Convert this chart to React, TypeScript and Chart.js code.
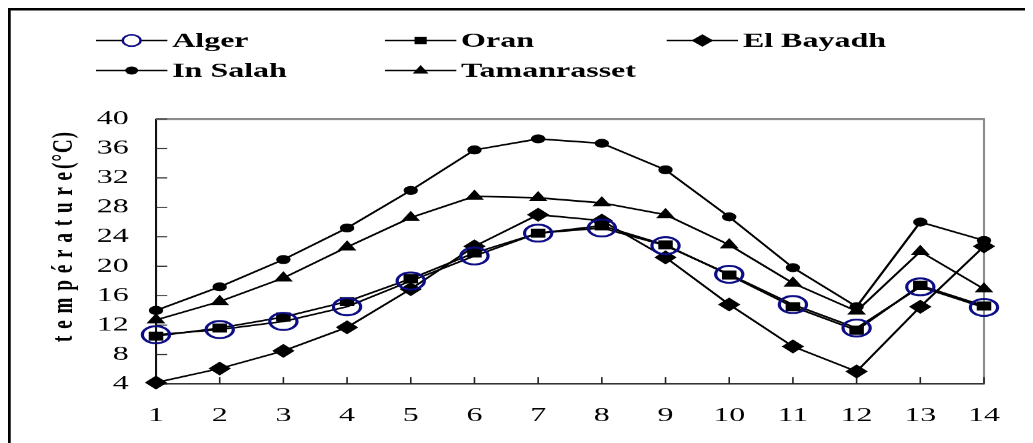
import React, { useEffect, useRef } from "react";
import { Chart, registerables } from "chart.js";

Chart.register(...registerables);

// ---- data ----
const categories = ["1", "2", "3", "4", "5", "6", "7", "8", "9", "10", "11", "12", "13", "14"];
const alger = [10.7, 11.4, 12.5, 14.5, 18.0, 21.4, 24.5, 25.2, 22.8, 18.9, 14.8, 11.6, 17.2, 14.4];
const oran = [10.5, 11.6, 13.1, 15.2, 18.3, 21.8, 24.5, 25.5, 22.9, 18.8, 14.5, 11.3, 17.4, 14.6];
const elBayadh = [4.2, 6.1, 8.5, 11.7, 16.9, 22.7, 27.0, 26.2, 21.2, 14.8, 9.1, 5.7, 14.5, 22.7];
const inSalah = [14.0, 17.2, 20.9, 25.2, 30.3, 35.8, 37.3, 36.7, 33.1, 26.7, 19.8, 14.5, 26.0, 23.5];
const tamanrasset = [12.7, 15.2, 18.4, 22.6, 26.6, 29.5, 29.3, 28.6, 27.0, 22.9, 17.7, 13.9, 22.0, 16.9];
const seriesNames = ["Alger", "Oran", "El Bayadh", "In Salah", "Tamanrasset"];
const yTickValues = [4, 8, 12, 16, 20, 24, 28, 32, 36, 40];
const yTitleWord = "température";
const yTitleUnit = "(°C)";

// ---- layout (logical units; the picture is stretched horizontally) ----
const SX = 1.6;
const LW = 640;
const LH = 435;
const SERIF = '"Liberation Serif", "Times New Roman", serif';
const NAVY = "#0c0c84";

type Marker = "ring" | "square" | "diamond" | "dot" | "triangle";
const markers: Marker[] = ["ring", "square", "diamond", "dot", "triangle"];

function drawMarker(ctx: CanvasRenderingContext2D, m: Marker, x: number, y: number) {
  ctx.save();
  ctx.fillStyle = "#000";
  ctx.strokeStyle = "#000";
  ctx.lineWidth = 1;
  ctx.beginPath();
  if (m === "ring") {
    ctx.strokeStyle = NAVY;
    ctx.lineWidth = 1.6;
    ctx.fillStyle = "#fff";
    ctx.arc(x, y, 5.6, 0, Math.PI * 2);
    ctx.fill();
    ctx.stroke();
  } else if (m === "square") {
    ctx.rect(x - 3.8, y - 3.8, 7.6, 7.6);
    ctx.fill();
  } else if (m === "diamond") {
    ctx.moveTo(x, y - 6.3);
    ctx.lineTo(x + 6.8, y);
    ctx.lineTo(x, y + 6.3);
    ctx.lineTo(x - 6.8, y);
    ctx.closePath();
    ctx.fill();
  } else if (m === "dot") {
    ctx.arc(x, y, 4, 0, Math.PI * 2);
    ctx.fill();
  } else {
    ctx.moveTo(x, y - 5.4);
    ctx.lineTo(x + 4.9, y + 3);
    ctx.lineTo(x - 4.9, y + 3);
    ctx.closePath();
    ctx.fill();
  }
  ctx.restore();
}

const decorPlugin = {
  id: "decor",
  beforeDatasetsDraw(chart: any) {
    const ctx: CanvasRenderingContext2D = chart.ctx;
    const { left, right, top, bottom } = chart.chartArea;
    ctx.save();
    // grey top and right border of the plot area
    ctx.strokeStyle = "#8c8c8c";
    ctx.lineWidth = 2;
    ctx.beginPath();
    ctx.moveTo(left, top);
    ctx.lineTo(right + 0.6, top);
    ctx.stroke();
    ctx.lineWidth = 1.3;
    ctx.beginPath();
    ctx.moveTo(right, top);
    ctx.lineTo(right, bottom);
    ctx.stroke();
    // inward tick marks
    ctx.strokeStyle = "#222";
    ctx.lineWidth = 1;
    const ys = chart.scales.y;
    ys.ticks.forEach((t: any) => {
      const py = ys.getPixelForValue(t.value);
      ctx.beginPath();
      ctx.moveTo(left, py);
      ctx.lineTo(left + 7, py);
      ctx.stroke();
    });
    const xs = chart.scales.x;
    xs.ticks.forEach((_t: any, i: number) => {
      const px = xs.getPixelForTick(i);
      ctx.beginPath();
      ctx.moveTo(px, bottom);
      ctx.lineTo(px, bottom - 7);
      ctx.stroke();
    });
    ctx.restore();
  },
  afterDraw(chart: any) {
    const ctx: CanvasRenderingContext2D = chart.ctx;
    ctx.save();
    // outer frame
    ctx.strokeStyle = "#000";
    ctx.lineWidth = 2.5;
    ctx.beginPath();
    ctx.moveTo(0, 1.25);
    ctx.lineTo(LW, 1.25);
    ctx.stroke();
    ctx.lineWidth = 1.7;
    ctx.beginPath();
    ctx.moveTo(0.85, 0);
    ctx.lineTo(0.85, LH);
    ctx.stroke();

    // legend in a 3-column grid
    const colX = [55, 235.6, 411.7];
    const rowY = [32.5, 62.5];
    const lineLen = 44.6;
    ctx.font = `bold 20px ${SERIF}`;
    ctx.textBaseline = "middle";
    ctx.textAlign = "left";
    chart.data.datasets.forEach((ds: any, i: number) => {
      const x0 = colX[i % 3];
      const y0 = rowY[Math.floor(i / 3)];
      ctx.strokeStyle = "#000";
      ctx.lineWidth = 1.5;
      ctx.beginPath();
      ctx.moveTo(x0, y0);
      ctx.lineTo(x0 + lineLen, y0);
      ctx.stroke();
      drawMarker(ctx, markers[i], x0 + lineLen / 2, y0);
      ctx.fillStyle = "#000";
      ctx.fillText(ds.label, x0 + lineLen + 3, y0 + 1);
    });

    // rotated y-axis title with letter spacing
    ctx.translate(35, 334);
    ctx.rotate(-Math.PI / 2);
    ctx.font = `bold 19px ${SERIF}`;
    ctx.fillStyle = "#000";
    ctx.textBaseline = "middle";
    ctx.textAlign = "left";
    const c: any = ctx;
    c.letterSpacing = "0px";
    const w0 = ctx.measureText(yTitleWord).width;
    const n0 = Array.from(yTitleWord).length;
    const sp0 = Math.max(0, (170 - w0) / (n0 - 1));
    c.letterSpacing = `${sp0}px`;
    ctx.fillText(yTitleWord, 0, 0);
    c.letterSpacing = "0px";
    const w1 = ctx.measureText(yTitleUnit).width;
    const n1 = Array.from(yTitleUnit).length;
    const sp1 = Math.max(0, (37 - w1) / (n1 - 1));
    c.letterSpacing = `${sp1}px`;
    ctx.fillText(yTitleUnit, 173, 0);
    ctx.restore();
  },
};

export default function App() {
  const ref = useRef<HTMLCanvasElement | null>(null);

  useEffect(() => {
    if (!ref.current) return;
    const base = {
      borderColor: "#000",
      borderWidth: 1.6,
      tension: 0,
      clip: false as const,
      pointBorderWidth: 1,
    };
    const chart = new Chart(ref.current, {
      type: "line",
      data: {
        labels: categories,
        datasets: [
          {
            ...base,
            label: seriesNames[0],
            data: alger,
            pointStyle: "circle",
            pointRadius: 8.5,
            pointBorderWidth: 2,
            pointBorderColor: NAVY,
            pointBackgroundColor: "rgba(0,0,0,0)",
          },
          {
            ...base,
            label: seriesNames[1],
            data: oran,
            pointStyle: "rect",
            pointRadius: 5.7,
            pointBorderColor: "#000",
            pointBackgroundColor: "#000",
          },
          {
            ...base,
            label: seriesNames[2],
            data: elBayadh,
            pointStyle: "rectRot",
            pointRadius: 6.3,
            pointBorderColor: "#000",
            pointBackgroundColor: "#000",
          },
          {
            ...base,
            label: seriesNames[3],
            data: inSalah,
            pointStyle: "circle",
            pointRadius: 4,
            pointBorderColor: "#000",
            pointBackgroundColor: "#000",
          },
          {
            ...base,
            label: seriesNames[4],
            data: tamanrasset,
            pointStyle: "triangle",
            pointRadius: 5.8,
            pointBorderColor: "#000",
            pointBackgroundColor: "#000",
          },
        ],
      },
      options: {
        responsive: false,
        animation: false,
        devicePixelRatio: SX,
        layout: { padding: { left: 0, top: 111, right: 20.6, bottom: 0 } },
        plugins: {
          legend: { display: false },
          tooltip: { enabled: false },
          title: { display: false },
        },
        scales: {
          x: {
            type: "category",
            offset: false,
            grid: { display: false, drawTicks: false },
            border: { display: true, color: "#333", width: 1.5 },
            ticks: {
              color: "#000",
              font: { family: SERIF, size: 20 },
              padding: 20,
              autoSkip: false,
              maxRotation: 0,
            },
            afterFit: (s: any) => {
              s.height = 59;
            },
          },
          y: {
            min: 4,
            max: 40,
            afterBuildTicks: (s: any) => {
              s.ticks = yTickValues.map((v) => ({ value: v }));
            },
            grid: { display: false, drawTicks: false },
            border: { display: true, color: "#111", width: 1.3 },
            ticks: {
              color: "#000",
              font: { family: SERIF, size: 20 },
              padding: 17,
            },
            afterFit: (s: any) => {
              s.width = 92.5;
            },
          },
        },
      },
      plugins: [decorPlugin],
    });
    return () => chart.destroy();
  }, []);

  return (
    <div style={{ width: 1017, height: 435, overflow: "hidden" }}>
      <canvas
        ref={ref}
        width={LW}
        height={LH}
        style={{ width: `${LW * SX}px`, height: `${LH}px`, display: "block" }}
      />
    </div>
  );
}
